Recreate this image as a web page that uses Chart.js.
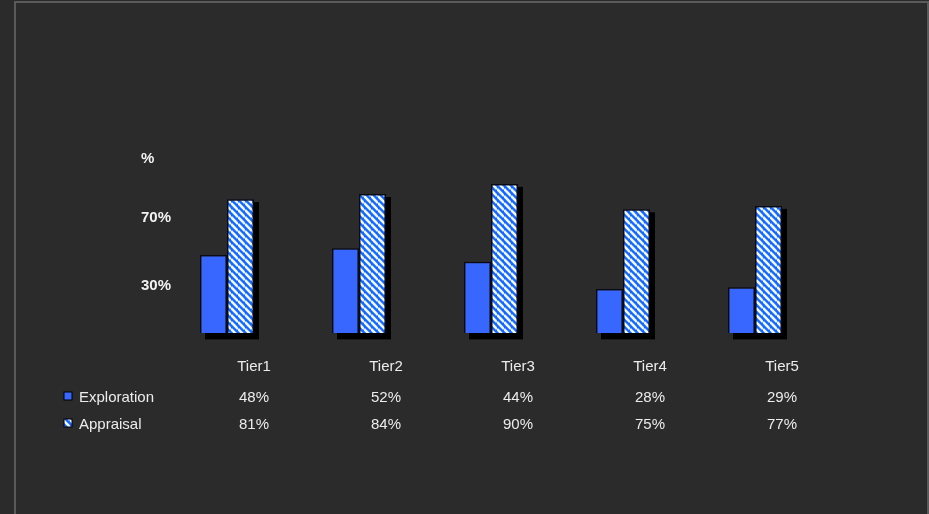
<!DOCTYPE html>
<html lang="en">
<head>
  <meta charset="UTF-8" />
  <title>Exploration vs Appraisal by Tier</title>
  <script src="https://cdn.jsdelivr.net/npm/chart.js"></script>
  <style>
    html, body {
      margin: 0;
      padding: 0;
      background: #2b2b2b;
      overflow: hidden;
    }
    /* grey frame around the plot, like the original slide */
    .frame {
      position: absolute;
      left: 14px;
      top: 1px;
      width: 911px;
      height: 530px;
      border: 2px solid #5a5a5a;
    }
    canvas {
      position: absolute;
      left: 0;
      top: 0;
    }
  </style>
</head>
<body>
<div class="frame"></div>
<canvas id="tierChart" width="929" height="514"></canvas>

<script>
  const categorias = ['Tier1', 'Tier2', 'Tier3', 'Tier4', 'Tier5'];
  const exploration = [48, 52, 44, 28, 29];
  const appraisal = [81, 84, 90, 75, 77];
  const yTickValues = [30, 70, 105];
  const yTickLabels = ['30%', '70%', '%'];

  const corExploration = '#3767ff';
  const corTexto = '#ececec';

  // hatch pattern for Appraisal (blue / white diagonal stripes)
  function hatchPattern() {
    const n = 7;
    const tile = document.createElement('canvas');
    tile.width = n;
    tile.height = n;
    const t = tile.getContext('2d');
    t.fillStyle = '#1268ff';
    t.fillRect(0, 0, n, n);
    t.strokeStyle = '#f2f7ff';
    t.lineWidth = 2.6;
    for (let c = -n; c <= n; c += n) {
      t.beginPath();
      t.moveTo(0, c);
      t.lineTo(n, n + c);
      t.stroke();
    }
    return document.getElementById('tierChart').getContext('2d').createPattern(tile, 'repeat');
  }
  const hatch = hatchPattern();

  // black drop shadow behind the bars (bar elements clip their own drawing,
  // so the shadow is painted first from the element geometry)
  const sombraPlugin = {
    id: 'sombra',
    beforeDatasetsDraw(chart) {
      const ctx = chart.ctx;
      ctx.save();
      ctx.fillStyle = '#000';
      chart.data.datasets.forEach((ds, di) => {
        chart.getDatasetMeta(di).data.forEach(bar => {
          const p = bar.getProps(['x', 'y', 'base', 'width'], true);
          ctx.fillRect(p.x - p.width / 2 + 5, p.y + 3, p.width, p.base - p.y);
        });
      });
      ctx.restore();
    }
  };

  // data table under the axis: legend keys + values
  const tabelaPlugin = {
    id: 'tabela',
    afterDraw(chart) {
      const ctx = chart.ctx;
      const x = chart.scales.x;
      const larguraBarra = (x.width / categorias.length) * 0.409 / 2;
      const linhas = [
        { nome: 'Exploration', valores: exploration, y: 398, cor: corExploration },
        { nome: 'Appraisal', valores: appraisal, y: 425, cor: hatch }
      ];
      ctx.save();
      ctx.font = '15px Arial, "Liberation Sans", sans-serif';
      ctx.textBaseline = 'middle';
      linhas.forEach(linha => {
        // legend key
        ctx.fillStyle = linha.cor;
        ctx.fillRect(64, linha.y - 6, 8, 8);
        ctx.strokeStyle = '#000';
        ctx.lineWidth = 1;
        ctx.strokeRect(64, linha.y - 6, 8, 8);

        ctx.fillStyle = corTexto;
        ctx.textAlign = 'left';
        ctx.fillText(linha.nome, 79, linha.y);

        ctx.textAlign = 'center';
        for (let i = 0; i < linha.valores.length; i++) {
          const px = x.getPixelForValue(i) + larguraBarra;
          ctx.fillText(linha.valores[i] + '%', px, linha.y);
        }
      });
      ctx.restore();
    }
  };

  Chart.defaults.font.family = 'Arial, "Liberation Sans", sans-serif';
  Chart.defaults.color = corTexto;

  const ctx = document.getElementById('tierChart').getContext('2d');
  new Chart(ctx, {
    type: 'bar',
    data: {
      labels: categorias,
      datasets: [
        {
          label: 'Exploration',
          data: exploration,
          backgroundColor: corExploration,
          borderColor: '#0a0a14',
          borderWidth: 1.5,
          borderSkipped: false
        },
        {
          label: 'Appraisal',
          data: appraisal,
          backgroundColor: hatch,
          borderColor: '#0a0a14',
          borderWidth: 1.5,
          borderSkipped: false
        }
      ]
    },
    options: {
      responsive: false,
      animation: false,
      layout: {
        padding: { left: 141, right: 108, top: 150, bottom: 141 }
      },
      datasets: {
        bar: {
          categoryPercentage: 0.409,
          barPercentage: 1
        }
      },
      plugins: {
        legend: { display: false },
        tooltip: { enabled: false }
      },
      scales: {
        x: {
          grid: { display: false, drawTicks: false },
          border: { display: false },
          ticks: {
            padding: 25,
            labelOffset: 27,
            color: corTexto,
            font: { size: 15 }
          },
          afterFit(scale) { scale.height = 40; }
        },
        y: {
          min: 2,
          max: 110,
          grid: { display: false, drawTicks: false },
          border: { display: false },
          afterBuildTicks(scale) {
            scale.ticks = yTickValues.map(v => ({ value: v }));
          },
          afterFit(scale) { scale.width = 20; },
          ticks: {
            mirror: true,
            crossAlign: 'near',
            padding: -20,
            color: '#f2f2f2',
            font: { size: 15, weight: 'bold' },
            callback(value) {
              const i = yTickValues.indexOf(value);
              return i >= 0 ? yTickLabels[i] : '';
            }
          }
        }
      }
    },
    plugins: [sombraPlugin, tabelaPlugin]
  });
</script>
</body>
</html>
